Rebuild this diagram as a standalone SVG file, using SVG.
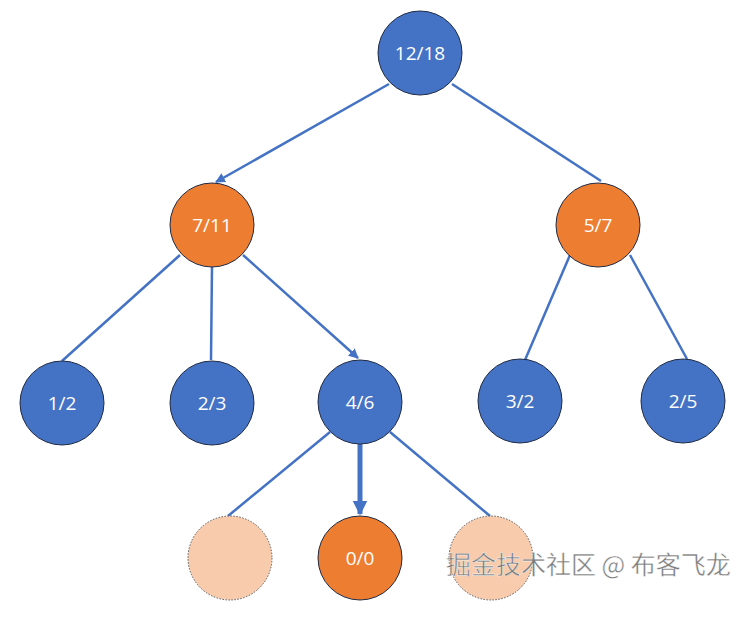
<svg xmlns="http://www.w3.org/2000/svg" width="750" height="624" viewBox="0 0 750 624">
<style>
.blue{fill:#4472C4;stroke:#1f2a44;stroke-width:1}
.orange{fill:#ED7D31;stroke:#1f2a44;stroke-width:1}
.light{fill:#F8CBAD;stroke:#555;stroke-width:1;stroke-dasharray:1.5 1.5}
.lbl{font-family:"Open Sans","Liberation Sans",sans-serif;font-size:19px;fill:#fff;text-anchor:middle;dominant-baseline:central}
.edge{stroke:#4472C4;stroke-width:2.5;fill:none}
.thick{stroke:#4472C4;stroke-width:5;fill:none}
.wm{font-family:"Noto Sans CJK SC",sans-serif;font-size:25px;fill:#7a7a7a;stroke:#fff;stroke-width:0.4}
</style>
<defs>
<marker id="arr" viewBox="0 0 10 10" refX="9" refY="5" markerWidth="4" markerHeight="4" orient="auto" markerUnits="strokeWidth">
<path d="M0,0 L10,5 L0,10 z" fill="#4472C4"/>
</marker>
<marker id="arrBig" viewBox="0 0 10 10" refX="9" refY="5" markerWidth="3" markerHeight="3.6" orient="auto" markerUnits="strokeWidth">
<path d="M0,0 L10,5 L0,10 z" fill="#4472C4"/>
</marker>
</defs>
<g id="connectors">
<line class="edge" x1="389" y1="84" x2="216" y2="182" marker-end="url(#arr)"/>
<line class="edge" x1="452" y1="84" x2="601" y2="181"/>
<line class="edge" x1="180" y1="255" x2="62" y2="361"/>
<line class="edge" x1="212" y1="266" x2="211" y2="360"/>
<line class="edge" x1="243" y1="255" x2="358" y2="358" marker-end="url(#arr)"/>
<line class="edge" x1="570" y1="255" x2="525" y2="360"/>
<line class="edge" x1="630" y1="255" x2="687" y2="359"/>
<line class="edge" x1="330" y1="432" x2="228" y2="516"/>
<line class="thick" x1="360" y1="444" x2="360" y2="514" marker-end="url(#arrBig)"/>
<line class="edge" x1="390" y1="432" x2="490" y2="516"/>
</g>
<g id="n1218"><circle class="blue" cx="420" cy="53" r="42"/><text class="lbl" x="420" y="53">12/18</text></g>
<g id="n711"><circle class="orange" cx="212" cy="225" r="42"/><text class="lbl" x="212" y="225">7/11</text></g>
<g id="n57"><circle class="orange" cx="598" cy="225" r="42"/><text class="lbl" x="598" y="225">5/7</text></g>
<g id="n12"><circle class="blue" cx="62" cy="403" r="42"/><text class="lbl" x="62" y="403">1/2</text></g>
<g id="n23"><circle class="blue" cx="212" cy="403" r="42"/><text class="lbl" x="212" y="403">2/3</text></g>
<g id="n46"><circle class="blue" cx="360" cy="402" r="42"/><text class="lbl" x="360" y="402">4/6</text></g>
<g id="n32"><circle class="blue" cx="520" cy="401" r="42"/><text class="lbl" x="520" y="401">3/2</text></g>
<g id="n25"><circle class="blue" cx="683" cy="401" r="42"/><text class="lbl" x="683" y="401">2/5</text></g>
<g id="nl1"><circle class="light" cx="230" cy="558" r="42"/></g>
<g id="n00"><circle class="orange" cx="360" cy="558" r="42"/><text class="lbl" x="360" y="558">0/0</text></g>
<g id="nl2"><circle class="light" cx="491" cy="558" r="42"/></g>
<text class="wm" x="446" y="574">掘金技术社区 @ 布客飞龙</text>
</svg>
